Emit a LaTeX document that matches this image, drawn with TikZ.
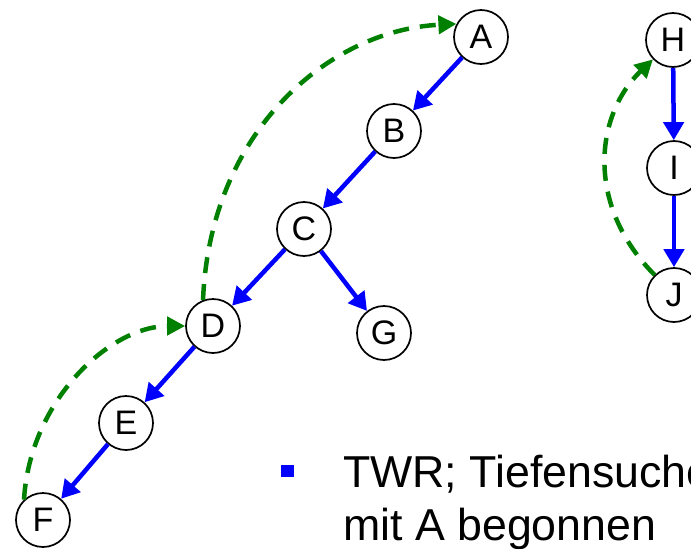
\documentclass[tikz,border=0pt]{standalone}
\usepackage{fontspec}
\setmainfont{Liberation Sans}
\usetikzlibrary{arrows.meta}
\begin{document}
\begin{tikzpicture}[x=1pt,y=-1pt,
  vertex/.style={circle,draw=black,line width=1.7pt,fill=white,minimum size=54pt,inner sep=0pt,
    font=\fontsize{34}{34}\selectfont},
  treeedge/.style={draw=blue,line width=4.5pt,-{Triangle[length=18pt,width=20pt]}},
  backedge/.style={draw=green!50!black,line width=4.5pt,dash pattern=on 16pt off 11pt,
    -{Triangle[length=18pt,width=18pt]}},
  caption/.style={anchor=base west,align=left,inner sep=0pt,font=\fontsize{44.7}{53}\selectfont}]
\useasboundingbox (0,0) rectangle (691,549);
\clip (0,0) rectangle (691,549);

% vertices of the first tree
\node[vertex] (A) at (481,37) {A};
\node[vertex] (B) at (394,131) {B};
\node[vertex] (C) at (304,229) {C};
\node[vertex] (D) at (213,326) {D};
\node[vertex] (E) at (126,423) {E};
\node[vertex] (F) at (43,520) {F};
\node[vertex] (G) at (384,333) {G};
% vertices of the second tree
\node[vertex] (H) at (673,40) {H};
\node[vertex] (I) at (674,168) {I};
\node[vertex] (J) at (674,295) {J};

% tree edges
\draw[treeedge] (A) -- (B);
\draw[treeedge] (B) -- (C);
\draw[treeedge] (C) -- (D);
\draw[treeedge] (C) -- (G);
\draw[treeedge] (D) -- (E);
\draw[treeedge] (E) -- (F);
\draw[treeedge] (H) -- (I);
\draw[treeedge] (I) -- (J);

% back edges
\draw[backedge] (D.111) .. controls (210,130) and (330,30) .. (A.152);
\draw[backedge] (F.133) .. controls (30,400) and (110,326) .. (D.180);
\draw[backedge] (J.134) .. controls (585,205) and (595,115) .. (H.224);

% bullet text (the node's base anchor sits on its last line)
\node[fill=blue,minimum size=12.5pt,inner sep=0pt] (bullet) at (287.5,471) {};
\node[caption] (text) at (343,540) {TWR; Tiefensuche\\mit A begonnen};
\end{tikzpicture}
\end{document}
